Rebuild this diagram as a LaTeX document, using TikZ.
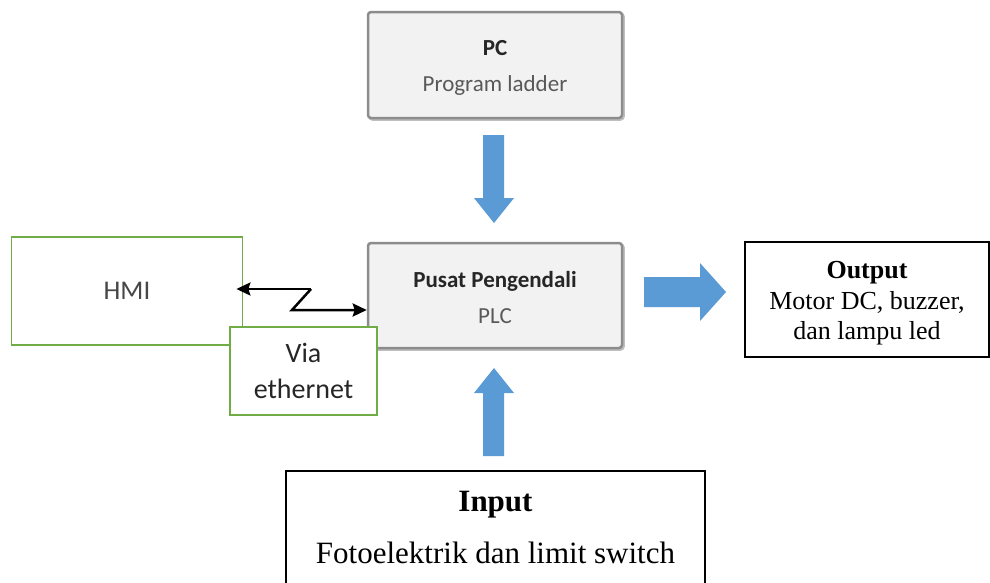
\documentclass[tikz,border=0pt]{standalone}
\usepackage{fontspec}
\newfontfamily\calibrif{Carlito}
\newfontfamily\timesf{Liberation Serif}
\usetikzlibrary{arrows.meta}
\definecolor{boxgray}{HTML}{F2F2F2}
\definecolor{edgegray}{HTML}{8C8C8C}
\definecolor{shadowgray}{HTML}{BFBFBF}
\definecolor{hmigreen}{HTML}{70AD47}
\definecolor{arrowblue}{HTML}{5B9BD5}
\definecolor{txtdark}{HTML}{262626}
\definecolor{txtgray}{HTML}{595959}
\tikzset{
  graybox/.style={draw=edgegray, fill=boxgray, line width=2.5pt, rounded corners=3pt,
    inner sep=0pt,
    preaction={draw=shadowgray, line width=2.5pt, transform canvas={shift={(1.5pt,-1.5pt)}}}},
  graytext/.style={inner sep=0pt, align=center, font=\calibrif\fontsize{23}{36}\selectfont},
  greenbox/.style={draw=hmigreen, fill=white, line width=1.8pt, inner sep=0pt,
    align=center, font=\calibrif\fontsize{28}{36}\selectfont},
  blackbox/.style={draw=black, fill=white, line width=1.5pt, inner sep=0pt},
  conn/.style={draw=black, line width=2.5pt, line join=miter,
    -{Stealth[length=14pt,width=13pt,inset=2pt]}},
  bluearrow/.style={fill=arrowblue}
}
\begin{document}
\begin{tikzpicture}[x=1pt,y=-1pt]
\useasboundingbox (0,0) rectangle (990,582);
\fill[white] (0,0) rectangle (990,582);
\clip (0,0) rectangle (990,582);

% boxes
\node[graybox, minimum width=254pt, minimum height=106pt] (pc) at (495,65) {};
\node[graytext] (pctext) at ([yshift=-3pt]pc.center)
  {{\bfseries\color{txtdark}PC}\\{\color{txtgray}Program ladder}};
\node[graybox, minimum width=254pt, minimum height=105pt] (plc) at (495,295.5) {};
\node[graytext] (plctext) at ([yshift=-2pt]plc.center)
  {{\bfseries\color{txtdark}Pusat Pengendali}\\{\color{txtgray}PLC}};
\node[greenbox, minimum width=231pt, minimum height=108pt, text=txtdark!85,
  font=\calibrif\fontsize{27}{36}\selectfont] (hmi) at (127,291) {HMI};
\node[greenbox, minimum width=147pt, minimum height=88pt, text=txtdark] (via) at (303.5,371)
  {Via\\ethernet};
\node[blackbox, minimum width=244pt, minimum height=115pt] (output) at (867,299.5) {};
\node[inner sep=0pt, align=center, font=\timesf\fontsize{26}{30.5}\selectfont] (outtext)
  at ([yshift=-4pt]output.center) {\textbf{Output}\\Motor DC, buzzer,\\dan lampu led};
\node[blackbox, minimum width=419pt, minimum height=130pt] (input) at (495.5,536) {};
\node[font=\timesf\fontsize{31}{52}\selectfont, align=center, inner sep=0pt] (intext)
  at (495.5,527) {\textbf{Input}\\Fotoelektrik dan limit switch};

% zigzag ethernet connector
\coordinate (z1) at (311,289);
\coordinate (z2) at (292,310);
\draw[conn] (z1) -- ([xshift=-7pt]z1 -| hmi.east);
\draw[conn] (z1) -- (z2) -- (z2 -| plc.west);

% blue block arrows
\fill[bluearrow] (483,135) -- (504,135) -- (504,198) -- (514,198) -- (494,223)
  -- (474,198) -- (483,198) -- cycle;
\fill[bluearrow] (483,456) -- (504,456) -- (504,393) -- (514,393) -- (494,368)
  -- (474,393) -- (483,393) -- cycle;
\fill[bluearrow] (644,277) -- (700,277) -- (700,263) -- (726,292) -- (700,321)
  -- (700,307) -- (644,307) -- cycle;
\end{tikzpicture}
\end{document}
